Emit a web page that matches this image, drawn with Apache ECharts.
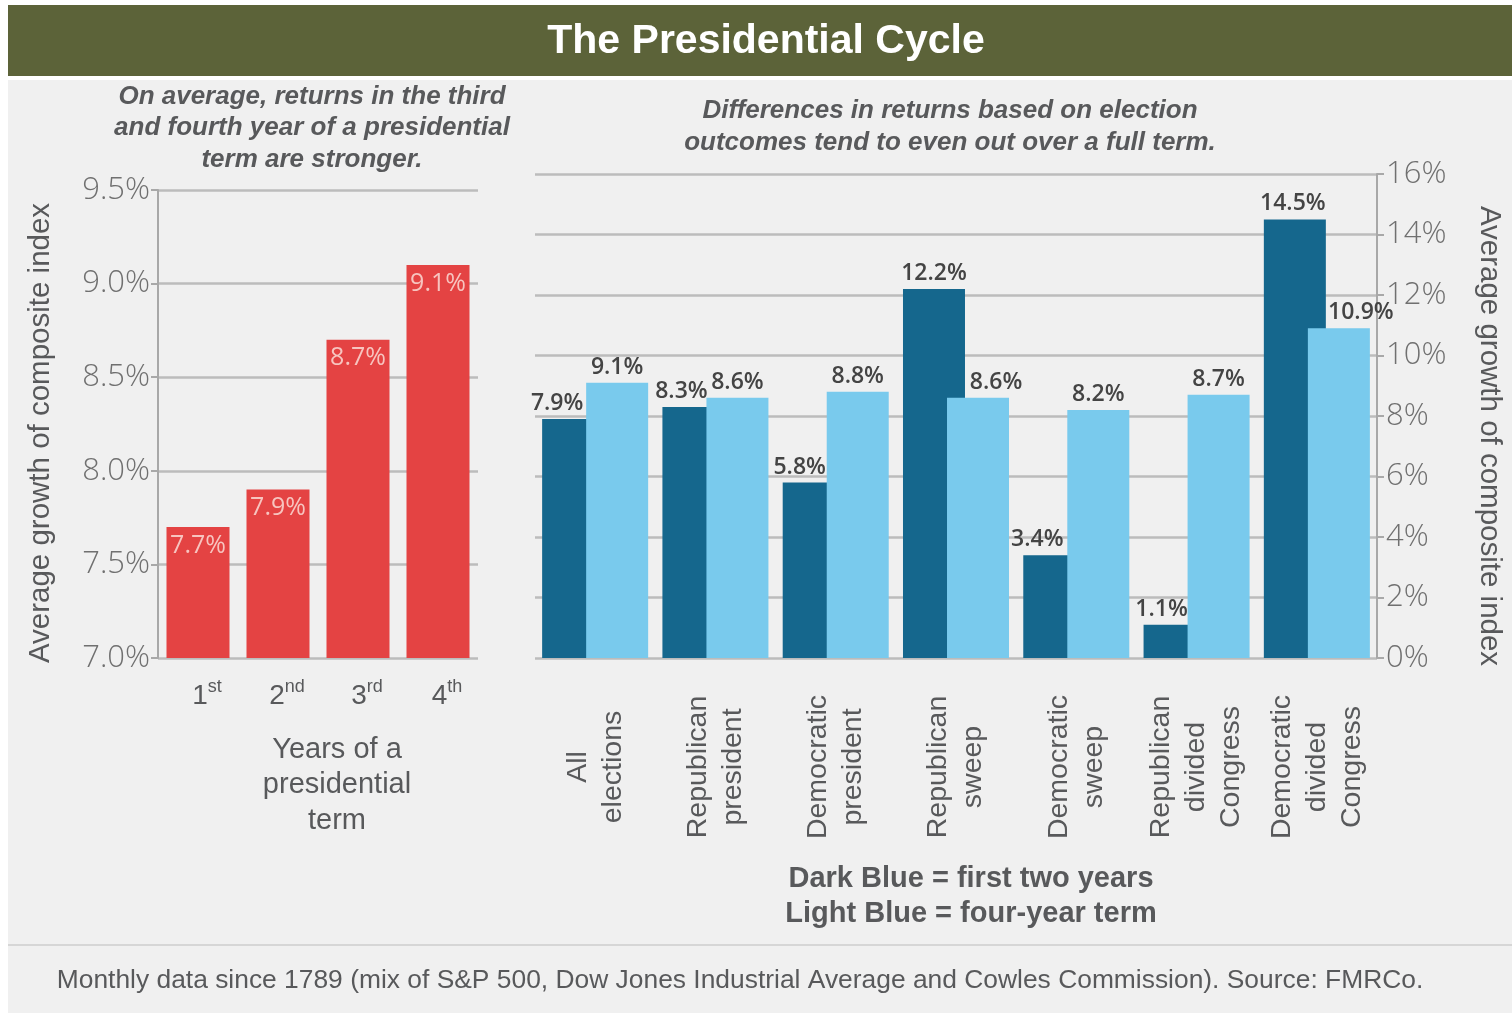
<!DOCTYPE html>
<html>
<head>
<meta charset="utf-8">
<title>The Presidential Cycle</title>
<script src="https://cdn.jsdelivr.net/npm/echarts@6/dist/echarts.min.js"></script>
<style>
  html, body { margin: 0; padding: 0; background: #ffffff; }
  #chart { width: 1512px; height: 1013px; }
</style>
</head>
<body>
<div id="chart"></div>
<script>
// Average growth by year of a presidential term
const termYears = ['1st', '2nd', '3rd', '4th'];
const yearReturns = [7.7, 7.9, 8.7, 9.1];
const leftAxisMin = 7.0;
const leftAxisMax = 9.5;
const leftAxisStep = 0.5;

// Average growth by election outcome
const outcomes = [
  'All\nelections',
  'Republican\npresident',
  'Democratic\npresident',
  'Republican\nsweep',
  'Democratic\nsweep',
  'Republican\ndivided\nCongress',
  'Democratic\ndivided\nCongress'
];
const firstTwoYears = [7.9, 8.3, 5.8, 12.2, 3.4, 1.1, 14.5];
const fourYearTerm = [9.1, 8.6, 8.8, 8.6, 8.2, 8.7, 10.9];
const rightAxisMin = 0;
const rightAxisMax = 16;
const rightAxisStep = 2;

// Text
const chartTitle = 'The Presidential Cycle';
const leftNote = 'On average, returns in the third\nand fourth year of a presidential\nterm are stronger.';
const rightNote = 'Differences in returns based on election\noutcomes tend to even out over a full term.';
const axisTitle = 'Average growth of composite index';
const yearsTitle = 'Years of a\npresidential\nterm';
const keyLines = 'Dark Blue = first two years\nLight Blue = four-year term';
const footnote = 'Monthly data since 1789 (mix of S&P 500, Dow Jones Industrial Average and Cowles Commission). Source: FMRCo.';

const SANS = '"Liberation Sans", Arial, Helvetica, sans-serif';
const UI = '"Open Sans", "Noto Sans", sans-serif';
const GRID_COLOR = '#bcbcbc';
const TEXT_GREY = '#58595b';

// label nudges so neighbouring value labels don't collide
const darkLabelShift = [-16, -12, -14, 0, -17, -13, -2];
const lightLabelShift = [0, 0, 0, 18, 0, 0, 22];

const pct1 = v => v.toFixed(1) + '%';

const chart = echarts.init(document.getElementById('chart'), null, { renderer: 'canvas' });

const option = {
  backgroundColor: '#f0f0f0',
  animation: false,
  graphic: [
    // white frame strips and title banner
    { type: 'rect', shape: { x: 0, y: 0, width: 1512, height: 80 }, style: { fill: '#ffffff' }, silent: true },
    { type: 'rect', shape: { x: 0, y: 0, width: 8, height: 1013 }, style: { fill: '#ffffff' }, silent: true },
    { type: 'rect', shape: { x: 8, y: 5, width: 1504, height: 71 }, style: { fill: '#5c6339' }, silent: true },
    {
      type: 'text', x: 766, y: 42, silent: true,
      style: { text: chartTitle, fill: '#ffffff', font: 'bold 41px ' + SANS, textAlign: 'center', textVerticalAlign: 'middle' }
    },
    {
      type: 'text', x: 312, y: 128, silent: true,
      style: { text: leftNote, fill: TEXT_GREY, font: 'italic bold 26px ' + SANS, textAlign: 'center', textVerticalAlign: 'middle', lineHeight: 31.5 }
    },
    {
      type: 'text', x: 950, y: 127, silent: true,
      style: { text: rightNote, fill: TEXT_GREY, font: 'italic bold 26px ' + SANS, textAlign: 'center', textVerticalAlign: 'middle', lineHeight: 32 }
    },
    {
      type: 'text', x: 971, y: 896, silent: true,
      style: { text: keyLines, fill: TEXT_GREY, font: 'bold 29px ' + SANS, textAlign: 'center', textVerticalAlign: 'middle', lineHeight: 35 }
    },
    { type: 'rect', shape: { x: 8, y: 944, width: 1504, height: 2 }, style: { fill: '#d6d6d6' }, silent: true },
    {
      type: 'text', x: 740, y: 981, silent: true,
      style: { text: footnote, fill: TEXT_GREY, font: '26.4px ' + SANS, textAlign: 'center', textVerticalAlign: 'middle' }
    }
  ],
  grid: [
    { left: 158, top: 190, width: 320, height: 468 },
    { left: 535, top: 174, width: 843, height: 484 }
  ],
  xAxis: [
    {
      type: 'category', gridIndex: 0, data: termYears,
      axisLine: { show: false }, axisTick: { show: false },
      axisLabel: {
        margin: 20,
        padding: [0, 0, 0, 18],
        formatter: v => v.replace(/^(\d+)(\D+)$/, '{n|$1}{s|$2}'),
        rich: {
          n: { fontFamily: SANS, fontSize: 28, color: TEXT_GREY, lineHeight: 32, verticalAlign: 'bottom' },
          s: { fontFamily: SANS, fontSize: 18, color: TEXT_GREY, lineHeight: 32, verticalAlign: 'top', padding: [0, 0, 11, 0] }
        }
      },
      name: yearsTitle, nameLocation: 'middle', nameGap: 74,
      nameTextStyle: { fontFamily: SANS, fontSize: 29, color: TEXT_GREY, lineHeight: 35.5, align: 'center', verticalAlign: 'top', padding: [0, 0, 0, 38] }
    },
    {
      type: 'category', gridIndex: 1, data: outcomes,
      axisLine: { show: false }, axisTick: { show: false },
      axisLabel: {
        interval: 0, rotate: 90, margin: 109, align: 'center', verticalAlign: 'middle',
        fontFamily: SANS, fontSize: 28.5, color: TEXT_GREY, lineHeight: 35
      }
    }
  ],
  yAxis: [
    {
      type: 'value', gridIndex: 0,
      min: leftAxisMin, max: leftAxisMax, interval: leftAxisStep,
      axisLine: { show: true, lineStyle: { color: '#a8a8a8', width: 2 } },
      axisTick: { show: true, length: 7, lineStyle: { color: '#a8a8a8', width: 2 } },
      splitLine: { show: true, lineStyle: { color: GRID_COLOR, width: 2.5 } },
      axisLabel: { formatter: pct1, margin: 8, fontFamily: UI, fontWeight: 300, fontSize: 31, color: '#707070' },
      name: axisTitle, nameLocation: 'middle', nameRotate: 90, nameGap: 102,
      nameTextStyle: { fontFamily: SANS, fontSize: 29.5, color: TEXT_GREY, padding: [0, 18, 0, 0] }
    },
    {
      type: 'value', gridIndex: 1, position: 'right',
      min: rightAxisMin, max: rightAxisMax, interval: rightAxisStep,
      axisLine: { show: true, lineStyle: { color: '#a8a8a8', width: 2 } },
      axisTick: { show: true, length: 7, lineStyle: { color: '#a8a8a8', width: 2 } },
      splitLine: { show: true, lineStyle: { color: GRID_COLOR, width: 2.5 } },
      axisLabel: { formatter: v => v + '%', margin: 9, fontFamily: UI, fontWeight: 300, fontSize: 31, color: '#707070' },
      name: axisTitle, nameLocation: 'middle', nameRotate: -90, nameGap: 97,
      nameTextStyle: { fontFamily: SANS, fontSize: 29.5, color: TEXT_GREY, padding: [0, 0, 0, 40] }
    }
  ],
  series: [
    {
      name: 'Year of term', type: 'bar', xAxisIndex: 0, yAxisIndex: 0,
      data: yearReturns, barWidth: 63,
      itemStyle: { color: '#e44343' },
      label: {
        show: true, position: 'insideTop', distance: 6, formatter: p => pct1(p.value),
        fontFamily: UI, fontSize: 25, color: '#f7c4bf'
      }
    },
    {
      name: 'First two years', type: 'bar', xAxisIndex: 1, yAxisIndex: 1,
      data: firstTwoYears.map((v, i) => ({ value: v, label: { offset: [darkLabelShift[i], 0] } })),
      barWidth: 62, barGap: '-29%',
      itemStyle: { color: '#15678d' },
      label: {
        show: true, position: 'top', distance: 4, formatter: p => pct1(p.value),
        fontFamily: UI, fontWeight: 600, fontSize: 23, color: '#444444'
      }
    },
    {
      name: 'Four-year term', type: 'bar', xAxisIndex: 1, yAxisIndex: 1,
      data: fourYearTerm.map((v, i) => ({ value: v, label: { offset: [lightLabelShift[i], 0] } })),
      barWidth: 62, barGap: '-29%',
      itemStyle: { color: '#79caed' },
      label: {
        show: true, position: 'top', distance: 4, formatter: p => pct1(p.value),
        fontFamily: UI, fontWeight: 600, fontSize: 23, color: '#444444'
      }
    }
  ]
};

chart.setOption(option);
</script>
</body>
</html>
